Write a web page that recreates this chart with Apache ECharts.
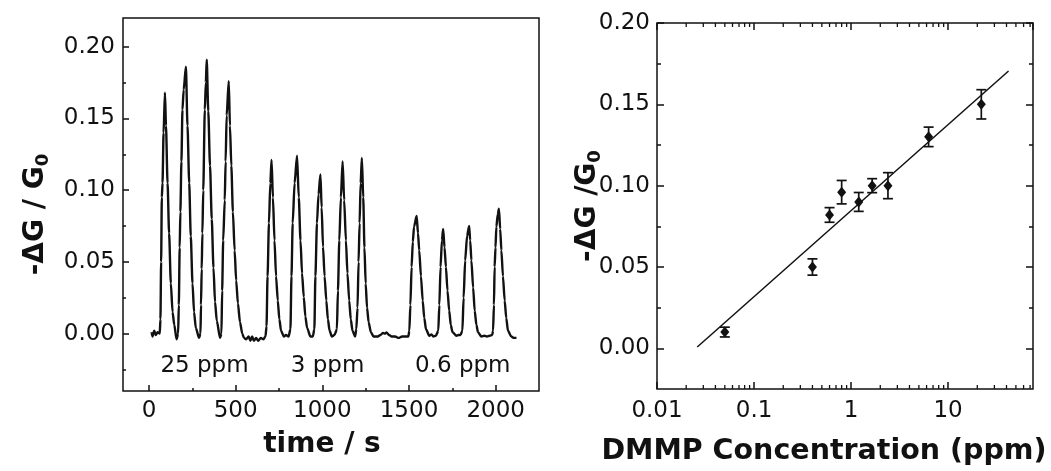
<!DOCTYPE html>
<html><head><meta charset="utf-8">
<script src="https://cdn.jsdelivr.net/npm/echarts@6/dist/echarts.min.js"></script>
<style>html,body{margin:0;padding:0;background:#fff}#c{width:1051px;height:471px}</style>
</head><body><div id="c"></div>
<script>
// ---- Left panel: response trace ----
const timeS = [15,20,30,40,50,62,
 66,70,74,78,84,92,98,107,116,126,136,146,159,168,
 172,177,181,187,193,200,213,222,232,241,251,260,270,289,297,
 300,304,308,313,322,328,333,342,352,362,372,381,391,410,418,
 422,428,437,442,448,460,467,475,484,494,503,513,525,538,548,
 560,575,585,595,605,618,630,645,660,672,
 678,684,692,700,707,715,724,733,743,752,762,778,790,805,
 816,822,829,840,854,864,874,883,893,902,912,931,945,
 954,960,969,978,989,996,1004,1013,1023,1032,1042,1055,1070,
 1084,1090,1098,1107,1117,1126,1136,1145,1155,1164,1174,1189,
 1196,1203,1209,1215,1221,1228,1236,1243,1250,1258,1267,1280,1295,
 1305,1320,1335,1350,1360,1370,1385,1400,1420,1440,1460,1480,1496,
 1502,1508,1515,1522,1529,1544,1552,1559,1569,1579,1588,1598,1617,1630,1640,1655,
 1669,1675,1682,1690,1697,1705,1713,1722,1732,1741,1751,1774,1785,1797,
 1808,1815,1824,1835,1847,1853,1860,1870,1879,1889,1898,1917,1935,1950,1965,1980,
 1985,1990,1994,1999,2004,2012,2019,2026,2033,2042,2052,2061,2071,2090,2105,2120];
const dG = [0.001,-0.002,0.002,-0.001,0.001,0.0,
 0.01,0.05,0.095,0.105,0.14,0.168,0.145,0.105,0.07,0.035,0.015,0.006,-0.004,0.0,
 0.02,0.06,0.085,0.12,0.156,0.17,0.186,0.145,0.105,0.068,0.035,0.015,0.004,-0.003,0.0,
 0.02,0.045,0.07,0.1,0.156,0.175,0.191,0.155,0.117,0.08,0.046,0.022,0.009,-0.003,0.0,
 0.03,0.065,0.093,0.12,0.152,0.176,0.145,0.117,0.085,0.058,0.037,0.021,0.008,0.0,-0.003,
 -0.004,-0.002,-0.005,-0.002,-0.005,-0.003,-0.005,-0.003,-0.004,-0.002,
 0.005,0.04,0.077,0.105,0.121,0.095,0.065,0.04,0.023,0.01,0.002,-0.002,-0.001,-0.002,
 0.003,0.04,0.077,0.105,0.124,0.095,0.065,0.042,0.0255,0.012,0.004,-0.002,-0.002,
 0.003,0.04,0.077,0.097,0.111,0.088,0.0605,0.04,0.023,0.01,0.002,-0.002,-0.001,
 0.003,0.03,0.065,0.095,0.120,0.093,0.065,0.042,0.023,0.01,0.002,-0.002,
 0.003,0.018,0.05,0.077,0.105,0.1225,0.095,0.06,0.035,0.018,0.008,0.001,-0.002,
 -0.002,-0.002,-0.001,0.0005,0.0,0.0008,-0.001,-0.002,-0.002,-0.003,-0.002,-0.002,-0.002,
 0.002,0.02,0.0465,0.064,0.0745,0.082,0.07,0.058,0.04,0.023,0.011,0.003,-0.0015,-0.0005,-0.002,-0.0015,
 0.002,0.02,0.0465,0.065,0.073,0.06,0.0465,0.03,0.016,0.006,0.001,-0.0015,-0.001,-0.001,
 0.002,0.025,0.051,0.068,0.075,0.065,0.051,0.032,0.016,0.006,0.001,-0.002,-0.0015,-0.002,-0.0015,-0.001,
 0.002,0.02,0.0465,0.06,0.0745,0.083,0.087,0.073,0.058,0.04,0.023,0.011,0.002,-0.002,-0.003,-0.003];
const ppmLabels = ['25 ppm', '3 ppm', '0.6 ppm'];
const ppmLabelT = [320, 1030, 1810];
const ppmLabelV = [-0.0225, -0.0225, -0.0225];
const timeTicks = [0, 500, 1000, 1500, 2000];
const timeMinorTicks = [250, 750, 1250, 1750];
const leftYTicks = [0, 0.05, 0.10, 0.15, 0.20];
const leftYMinorTicks = [-0.025, 0.025, 0.075, 0.125, 0.175];

// ---- Right panel: calibration ----
const conc = [0.05, 0.4, 0.6, 0.8, 1.2, 1.65, 2.4, 6.3, 22];
const resp = [0.010, 0.050, 0.082, 0.096, 0.090, 0.100, 0.100, 0.130, 0.150];
const respErr = [0.003, 0.005, 0.0045, 0.0072, 0.0058, 0.0043, 0.008, 0.006, 0.009];
const fitConc = [0.026, 42];
const fitResp = [0.0008, 0.1705];
const rightYTicks = [0, 0.05, 0.10, 0.15, 0.20];
const rightYMinorTicks = [0.025, 0.075, 0.125, 0.175];
const concMinorTicks = [0.02,0.03,0.04,0.05,0.06,0.07,0.08,0.09,
  0.2,0.3,0.4,0.5,0.6,0.7,0.8,0.9, 2,3,4,5,6,7,8,9, 20,30,40,50,60,70];

const FONT = 'DejaVu Sans';
const INK = '#111111';
const labelStyle = {fontFamily: FONT, fontSize: 23, color: INK};
const nameStyle = {fontFamily: FONT, fontSize: 28, fontWeight: 'bold', color: INK};
const yNameStyle = Object.assign({}, nameStyle, {
  rich: {s: {fontFamily: FONT, fontSize: 18, fontWeight: 'bold', color: INK, padding: [14, 0, 0, 0]}}
});
const fmt2 = v => Number(v).toFixed(2);
const fmtPlain = v => String(+Number(v).toPrecision(6));

function tickAxis(extra) {
  return Object.assign({
    type: 'value', axisLine: {show: false, onZero: false}, splitLine: {show: false},
    axisLabel: {show: false}, axisTick: {show: false}
  }, extra);
}

const L = {min: -150, max: 2250, ymin: -0.04, ymax: 0.22};
const R = {min: 0.01, max: 75, ymin: -0.025, ymax: 0.20};
const tickLine = {color: INK, width: 1.5};

const option = {
  backgroundColor: '#fff',
  animation: false,
  grid: [
    {left: 123, top: 18, width: 416, height: 373, show: true, borderColor: INK, borderWidth: 1.5, backgroundColor: 'transparent'},
    {left: 657, top: 23, width: 376, height: 370, show: true, borderColor: INK, borderWidth: 1.5, backgroundColor: 'transparent'}
  ],
  xAxis: [
    tickAxis({gridIndex: 0, min: L.min, max: L.max, position: 'bottom',
      axisTick: {show: true, inside: true, length: 6, customValues: timeTicks, lineStyle: tickLine},
      axisLabel: {show: true, customValues: timeTicks, margin: 9, formatter: fmtPlain, ...labelStyle},
      name: 'time / s', nameLocation: 'middle', nameGap: 40,
      nameTextStyle: Object.assign({}, nameStyle, {padding: [0, 18, 0, 0]})}),
    tickAxis({gridIndex: 0, min: L.min, max: L.max, position: 'bottom',
      axisTick: {show: true, inside: true, length: 3, customValues: timeMinorTicks, lineStyle: tickLine}}),
    {type: 'log', logBase: 10, gridIndex: 1, min: R.min, max: R.max, position: 'bottom',
      axisLine: {show: false, onZero: false}, splitLine: {show: false},
      axisTick: {show: true, inside: true, length: 7, lineStyle: tickLine},
      axisLabel: {show: true, margin: 11, showMaxLabel: false, ...labelStyle, formatter: fmtPlain},
      name: 'DMMP Concentration (ppm)', nameLocation: 'middle', nameGap: 48,
      nameTextStyle: Object.assign({}, nameStyle, {fontSize: 28.5, padding: [0, 42, 0, 0]})},
    {type: 'log', logBase: 10, gridIndex: 1, min: R.min, max: R.max, position: 'top',
      axisLine: {show: false, onZero: false}, splitLine: {show: false}, axisLabel: {show: false},
      axisTick: {show: true, inside: true, length: 7, lineStyle: tickLine}}
  ],
  yAxis: [
    tickAxis({gridIndex: 0, min: L.ymin, max: L.ymax, position: 'left',
      axisTick: {show: true, inside: true, length: 6, customValues: leftYTicks, lineStyle: tickLine},
      axisLabel: {show: true, customValues: leftYTicks, margin: 8, formatter: fmt2, ...labelStyle},
      name: '-ΔG / G{s|0}', nameLocation: 'middle', nameRotate: 90, nameGap: 71,
      nameTextStyle: Object.assign({}, yNameStyle, {padding: [0, 20, 0, 0]})}),
    tickAxis({gridIndex: 0, min: L.ymin, max: L.ymax, position: 'left',
      axisTick: {show: true, inside: true, length: 3, customValues: leftYMinorTicks, lineStyle: tickLine}}),
    tickAxis({gridIndex: 1, min: R.ymin, max: R.ymax, position: 'left',
      axisTick: {show: true, inside: true, length: 7, customValues: rightYTicks, lineStyle: tickLine},
      axisLabel: {show: true, customValues: rightYTicks, margin: 7, formatter: fmt2, ...labelStyle},
      name: '-ΔG /G{s|0}', nameLocation: 'middle', nameRotate: 90, nameGap: 53, nameMoveOverlap: false,
      nameTextStyle: yNameStyle}),
    tickAxis({gridIndex: 1, min: R.ymin, max: R.ymax, position: 'left',
      axisTick: {show: true, inside: true, length: 4, customValues: rightYMinorTicks, lineStyle: tickLine}}),
    tickAxis({gridIndex: 1, min: R.ymin, max: R.ymax, position: 'right',
      axisTick: {show: true, inside: true, length: 7, customValues: rightYTicks, lineStyle: tickLine}}),
    tickAxis({gridIndex: 1, min: R.ymin, max: R.ymax, position: 'right',
      axisTick: {show: true, inside: true, length: 4, customValues: rightYMinorTicks, lineStyle: tickLine}})
  ],
  series: [
    {type: 'line', xAxisIndex: 0, yAxisIndex: 0, data: timeS.map((t, i) => [t, dG[i]]),
      showSymbol: false, symbol: 'none', smooth: 0.25, smoothMonotone: 'x',
      lineStyle: {color: INK, width: 2.4}},
    {type: 'scatter', xAxisIndex: 0, yAxisIndex: 0, symbolSize: 0, silent: true,
      itemStyle: {opacity: 1},
      data: ppmLabelT.map((t, i) => ({value: [t, ppmLabelV[i]], name: ppmLabels[i]})),
      label: {show: true, position: 'inside', formatter: p => p.name, fontFamily: FONT, fontSize: 23, color: INK, opacity: 1}},
    {type: 'custom', xAxisIndex: 2, yAxisIndex: 2, clip: false, silent: true,
      data: concMinorTicks.map(v => [v]),
      renderItem: (params, api) => {
        const v = api.value(0);
        const b = api.coord([v, R.ymin]);
        const t = api.coord([v, R.ymax]);
        const st = {stroke: INK, lineWidth: 1.3};
        return {type: 'group', children: [
          {type: 'line', shape: {x1: b[0], y1: b[1], x2: b[0], y2: b[1] - 4}, style: st},
          {type: 'line', shape: {x1: t[0], y1: t[1], x2: t[0], y2: t[1] + 4}, style: st}
        ]};
      }},
    {type: 'line', xAxisIndex: 2, yAxisIndex: 2, data: fitConc.map((c, i) => [c, fitResp[i]]),
      symbol: 'none', lineStyle: {color: INK, width: 1.5}},
    {type: 'custom', xAxisIndex: 2, yAxisIndex: 2, silent: true,
      data: conc.map((c, i) => [c, resp[i], respErr[i]]),
      renderItem: (params, api) => {
        const x = api.value(0), y = api.value(1), e = api.value(2);
        const hi = api.coord([x, y + e]);
        const lo = api.coord([x, y - e]);
        const w = 5;
        const st = {stroke: INK, lineWidth: 1.7};
        return {type: 'group', children: [
          {type: 'line', shape: {x1: hi[0], y1: hi[1], x2: lo[0], y2: lo[1]}, style: st},
          {type: 'line', shape: {x1: hi[0] - w, y1: hi[1], x2: hi[0] + w, y2: hi[1]}, style: st},
          {type: 'line', shape: {x1: lo[0] - w, y1: lo[1], x2: lo[0] + w, y2: lo[1]}, style: st}
        ]};
      }},
    {type: 'scatter', xAxisIndex: 2, yAxisIndex: 2, data: conc.map((c, i) => [c, resp[i]]),
      symbol: 'diamond', symbolSize: [9, 11], itemStyle: {color: INK, opacity: 1}}
  ]
};
const chart = echarts.init(document.getElementById('c'), null, {renderer: 'canvas'});
chart.setOption(option);
</script></body></html>
